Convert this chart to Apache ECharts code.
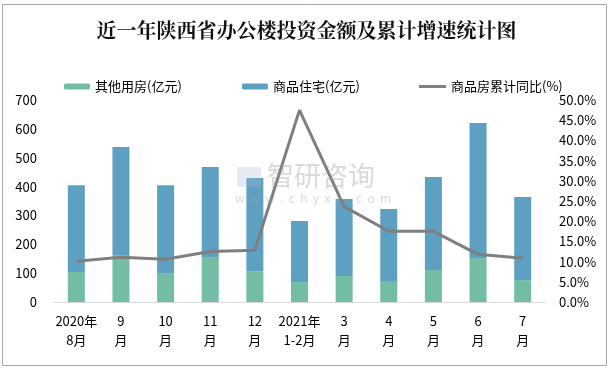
<!DOCTYPE html>
<html><head><meta charset="utf-8">
<script src="https://cdn.jsdelivr.net/npm/echarts@6/dist/echarts.min.js"></script>
<style>html,body{margin:0;padding:0;background:#fff}#c{width:613px;height:369px}</style>
</head><body><div id="c"></div>
<script>
const categories = ['2020年\n8月','9\n月','10\n月','11\n月','12\n月','2021年\n1-2月','3\n月','4\n月','5\n月','6\n月','7\n月'];
const otherHousing = [104, 160, 100, 153, 107, 69, 90, 73, 111, 152, 76];
const residential = [301, 377, 305, 315, 323, 212, 267, 249, 322, 468, 288];
const cumulativeYoY = [10.1, 11.1, 10.6, 12.5, 12.8, 47.5, 23.6, 17.5, 17.5, 11.8, 10.8];
const leftTicks = {min: 0, max: 700, interval: 100};
const rightTicks = {min: 0, max: 50, interval: 5};

const chart = echarts.init(document.getElementById('c'));
const fontFam = '"Noto Sans CJK SC", "DejaVu Sans", sans-serif';
const legendText = {fontSize: 13, color: '#000', fontFamily: fontFam};
chart.setOption({
  animation: false,
  backgroundColor: '#fff',
  title: {
    text: '近一年陕西省办公楼投资金额及累计增速统计图',
    left: 'center', top: 15,
    textStyle: {fontSize: 20, fontWeight: 'bold', color: '#111', fontFamily: '"Noto Serif CJK SC", "Noto Sans CJK SC", serif'}
  },
  graphic: [
    {type: 'rect', shape: {x: 2.5, y: 4.5, width: 604, height: 361}, style: {fill: 'none', stroke: '#a6a6a6', lineWidth: 1}, silent: true},
    {type: 'text', left: 267, top: 162, style: {text: '智研咨询', fontSize: 27, fill: 'rgba(160,160,160,0.4)', fontFamily: fontFam}, z: 100},
    {type: 'text', left: 235, top: 192, style: {text: 'w  w  w  .  c  h  y  x  x  .  c  o  m', fontSize: 12, fill: 'rgba(160,160,160,0.4)', fontFamily: fontFam}, z: 100},
    {type: 'rect', shape: {x: 237, y: 167, width: 24, height: 20}, style: {fill: 'rgba(170,185,215,0.3)'}, z: 100}
  ],
  legend: [
    {data: ['其他用房(亿元)'], left: 59, top: 75, itemWidth: 26, itemHeight: 6, itemGap: 3, textStyle: legendText},
    {data: ['商品住宅(亿元)'], left: 237, top: 75, itemWidth: 26, itemHeight: 6, textStyle: legendText},
    {data: [{name: '商品房累计同比(%)', icon: 'rect', itemStyle: {color: '#808080'}}], left: 414, top: 75, itemWidth: 27, itemHeight: 3, textStyle: legendText}
  ],
  grid: {left: 54, right: 68, top: 100, bottom: 67, containLabel: false},
  xAxis: {
    type: 'category', data: categories,
    axisLine: {lineStyle: {color: '#d9d9d9', width: 1}},
    axisTick: {show: false},
    axisLabel: {color: '#000', fontSize: 13, lineHeight: 19, margin: 10, interval: 0, fontFamily: fontFam}
  },
  yAxis: [
    {type: 'value', min: leftTicks.min, max: leftTicks.max, interval: leftTicks.interval,
     splitLine: {show: false}, axisLine: {show: false}, axisTick: {show: false},
     axisLabel: {color: '#000', fontSize: 13, margin: 17, fontFamily: fontFam}},
    {type: 'value', min: rightTicks.min, max: rightTicks.max, interval: rightTicks.interval,
     splitLine: {show: false}, axisLine: {show: false}, axisTick: {show: false},
     axisLabel: {color: '#000', fontSize: 13, margin: 14, fontFamily: fontFam, formatter: v => v.toFixed(1) + '%'}}
  ],
  series: [
    {name: '其他用房(亿元)', type: 'bar', stack: 'a', data: otherHousing, barWidth: 17, itemStyle: {color: '#72BDA3'}},
    {name: '商品住宅(亿元)', type: 'bar', stack: 'a', data: residential, barWidth: 17, itemStyle: {color: '#5EA0C1'}},
    {name: '商品房累计同比(%)', type: 'line', yAxisIndex: 1, data: cumulativeYoY, symbol: 'none',
     lineStyle: {color: '#7f7f7f', width: 3}, itemStyle: {color: '#7f7f7f'}, z: 5}
  ]
});
</script></body></html>
